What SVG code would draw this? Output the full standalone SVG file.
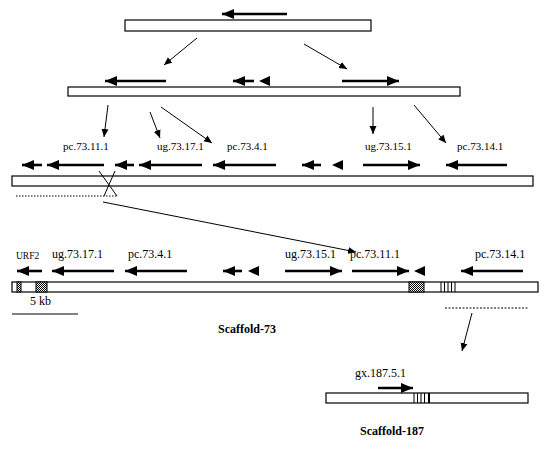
<svg xmlns="http://www.w3.org/2000/svg" width="550" height="450" viewBox="0 0 550 450">
<style>
.bar{fill:#fff;stroke:#000;stroke-width:1.2}
.gene{stroke:#000;stroke-width:2.6;fill:none;marker-end:url(#gh)}
.con{stroke:#000;stroke-width:1;fill:none;marker-end:url(#ch)}
.lbl{font-family:"Liberation Serif","Times New Roman",serif;font-size:11px;fill:#000}
.lbl2{font-family:"Liberation Serif","Times New Roman",serif;font-size:12px;fill:#000}
.ttl{font-family:"Liberation Serif","Times New Roman",serif;font-size:12px;font-weight:bold;fill:#000}
.stripe{stroke:#000;stroke-width:1}
</style>
<defs>
<marker id="gh" markerUnits="userSpaceOnUse" markerWidth="12" markerHeight="10" refX="12" refY="5" orient="auto">
<path d="M0,0 L12,5 L0,10 z" fill="#000"/>
</marker>
<marker id="ch" markerUnits="userSpaceOnUse" markerWidth="8" markerHeight="8" refX="8" refY="4" orient="auto">
<path d="M0,0.5 L8,4 L0,7.5 z" fill="#000"/>
</marker>
<path id="ahL" d="M0,0 L11,-5 L11,5 z" fill="#000"/>
<pattern id="chk" width="2" height="2" patternUnits="userSpaceOnUse">
<rect width="2" height="2" fill="#fff"/>
<rect width="1" height="1" fill="#000"/>
<rect x="1" y="1" width="1" height="1" fill="#000"/>
</pattern>
</defs>

<g id="bar1">
<rect class="bar" x="125" y="20" width="246" height="11"/>
<line class="gene" x1="287" y1="14" x2="222" y2="14"/>
</g>

<g id="bar2">
<rect class="bar" x="68" y="87" width="392" height="9"/>
<line class="gene" x1="166" y1="81" x2="105" y2="81"/>
<line class="gene" x1="254" y1="81" x2="233" y2="81"/>
<use href="#ahL" x="259" y="81"/>
<line class="gene" x1="342" y1="81" x2="399" y2="81"/>
</g>

<g id="bar3">
<rect class="bar" x="12" y="176" width="521" height="10"/>
<text class="lbl" x="63" y="150">pc.73.11.1</text>
<text class="lbl" x="157" y="150">ug.73.17.1</text>
<text class="lbl" x="227" y="150">pc.73.4.1</text>
<text class="lbl" x="365" y="150">ug.73.15.1</text>
<text class="lbl" x="457" y="150">pc.73.14.1</text>
<line class="gene" x1="42" y1="165" x2="22" y2="165"/>
<line class="gene" x1="104" y1="165" x2="47" y2="165"/>
<line class="gene" x1="134" y1="165" x2="115" y2="165"/>
<line class="gene" x1="202" y1="165" x2="139" y2="165"/>
<line class="gene" x1="276" y1="165" x2="213" y2="165"/>
<line class="gene" x1="321" y1="165" x2="302" y2="165"/>
<use href="#ahL" x="332" y="165"/>
<line class="gene" x1="363" y1="165" x2="420" y2="165"/>
<line class="gene" x1="507" y1="165" x2="446" y2="165"/>
<line x1="16" y1="196" x2="118" y2="196" stroke="#000" stroke-width="1.2" stroke-dasharray="1.5,1.5"/>
<line x1="99" y1="171" x2="117" y2="196" stroke="#000" stroke-width="1"/>
<line x1="115" y1="171" x2="104" y2="196" stroke="#000" stroke-width="1"/>
</g>

<g id="scaffold-73">
<rect class="bar" x="12" y="282" width="526" height="10"/>
<rect x="17" y="282" width="4" height="10" fill="url(#chk)" stroke="#000" stroke-width="1"/>
<rect x="36" y="282" width="11" height="10" fill="url(#chk)" stroke="#000" stroke-width="1"/>
<rect x="409" y="282" width="15" height="10" fill="url(#chk)" stroke="#000" stroke-width="1"/>
<line class="stripe" x1="441" y1="282" x2="441" y2="292"/>
<line class="stripe" x1="444.5" y1="282" x2="444.5" y2="292"/>
<line class="stripe" x1="448" y1="282" x2="448" y2="292"/>
<line class="stripe" x1="451.5" y1="282" x2="451.5" y2="292"/>
<line class="stripe" x1="455" y1="282" x2="455" y2="292"/>
<text class="lbl" x="16" y="259" style="font-size:9.5px">URF2</text>
<text class="lbl2" x="52" y="258">ug.73.17.1</text>
<text class="lbl2" x="128" y="258">pc.73.4.1</text>
<text class="lbl2" x="285" y="258">ug.73.15.1</text>
<text class="lbl2" x="350" y="258">pc.73.11.1</text>
<text class="lbl2" x="475" y="258">pc.73.14.1</text>
<line class="gene" x1="42" y1="271" x2="17" y2="271"/>
<line class="gene" x1="114" y1="271" x2="52" y2="271"/>
<line class="gene" x1="187" y1="271" x2="125" y2="271"/>
<line class="gene" x1="242" y1="271" x2="223" y2="271"/>
<use href="#ahL" x="248" y="271"/>
<line class="gene" x1="285" y1="271" x2="342" y2="271"/>
<line class="gene" x1="352" y1="271" x2="409" y2="271"/>
<use href="#ahL" x="414" y="271"/>
<line class="gene" x1="523" y1="271" x2="461" y2="271"/>
<text class="lbl2" x="30" y="305">5 kb</text>
<line x1="12" y1="314" x2="78" y2="314" stroke="#000" stroke-width="1"/>
<text class="ttl" x="218" y="333">Scaffold-73</text>
<line x1="445" y1="308" x2="528" y2="308" stroke="#000" stroke-width="1" stroke-dasharray="2,1.5"/>
</g>

<g id="scaffold-187">
<rect class="bar" x="326" y="393" width="202" height="10"/>
<line class="stripe" x1="414" y1="393" x2="414" y2="403"/>
<line class="stripe" x1="417.5" y1="393" x2="417.5" y2="403"/>
<line class="stripe" x1="421" y1="393" x2="421" y2="403"/>
<line class="stripe" x1="424.5" y1="393" x2="424.5" y2="403"/>
<line x1="429" y1="393" x2="429" y2="403" stroke="#000" stroke-width="2"/>
<text class="lbl2" x="355" y="377">gx.187.5.1</text>
<line class="gene" x1="378" y1="388" x2="413" y2="388"/>
<text class="ttl" x="360" y="435">Scaffold-187</text>
</g>

<g id="connectors">
<line class="con" x1="197" y1="38" x2="164" y2="65"/>
<line class="con" x1="304" y1="44" x2="347" y2="69"/>
<line class="con" x1="108" y1="105" x2="104" y2="137"/>
<line class="con" x1="150" y1="112" x2="160" y2="138"/>
<line class="con" x1="161" y1="107" x2="212" y2="143"/>
<line class="con" x1="373" y1="107" x2="373" y2="134"/>
<line class="con" x1="414" y1="105" x2="446" y2="143"/>
<line class="con" x1="103" y1="202" x2="356" y2="252"/>
<line class="con" x1="472" y1="313" x2="462" y2="351"/>
</g>
</svg>
